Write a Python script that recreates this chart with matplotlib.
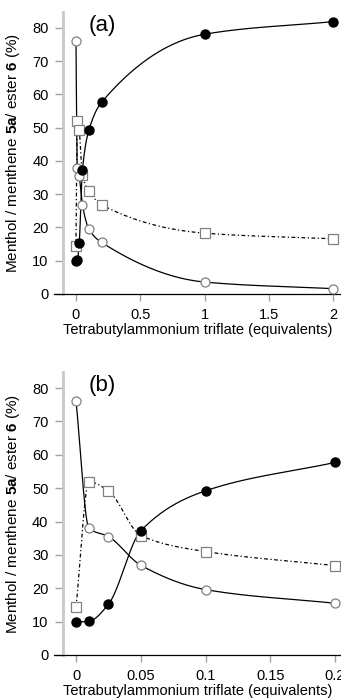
import numpy as np
import matplotlib
matplotlib.use("Agg")
import matplotlib.pyplot as plt

plt.rcParams['font.family'] = ['Liberation Sans', 'DejaVu Sans']
plt.rcParams['mathtext.fontset'] = 'custom'
plt.rcParams['mathtext.rm'] = 'Liberation Sans'
plt.rcParams['mathtext.bf'] = 'Liberation Sans:bold'

# Data
equiv = [0, 0.01, 0.025, 0.05, 0.1, 0.2, 1, 2]
filled_series = [9.8, 10.1, 15.2, 37.2, 49.2, 57.7, 78.1, 81.9]
open_series = [76.1, 38.0, 35.5, 26.9, 19.6, 15.5, 3.6, 1.6]
square_series = [14.3, 51.9, 49.2, 35.8, 31.0, 26.8, 18.3, 16.6]

xticks_a = [0, 0.5, 1, 1.5, 2]
xticklabels_a = ['0', '0.5', '1', '1.5', '2']
xticks_b = [0, 0.05, 0.1, 0.15, 0.2]
xticklabels_b = ['0', '0.05', '0.1', '0.15', '0.2']
yticks = [0, 10, 20, 30, 40, 50, 60, 70, 80]

ylabel = r'Menthol / menthene $\mathbf{5a}$/ ester $\mathbf{6}$ (%)'
xlabel = 'Tetrabutylammonium triflate (equivalents)'


def smooth(x, y, n=40):
    # monotone cubic (Fritsch-Carlson) path through the data points
    x = np.asarray(x, float); y = np.asarray(y, float)
    h = np.diff(x); d = np.diff(y) / h
    m = np.zeros_like(y)
    m[0] = d[0]; m[-1] = d[-1]
    for i in range(1, len(y) - 1):
        if d[i - 1] * d[i] <= 0:
            m[i] = 0
        else:
            w1 = 2 * h[i] + h[i - 1]; w2 = h[i] + 2 * h[i - 1]
            m[i] = (w1 + w2) / (w1 / d[i - 1] + w2 / d[i])
    xs, ys = [x[0]], [y[0]]
    for i in range(len(x) - 1):
        t = np.linspace(0, 1, n)[1:]
        h00 = 2 * t ** 3 - 3 * t ** 2 + 1
        h10 = t ** 3 - 2 * t ** 2 + t
        h01 = -2 * t ** 3 + 3 * t ** 2
        h11 = t ** 3 - t ** 2
        xs.extend(x[i] + t * h[i])
        ys.extend(h00 * y[i] + h10 * h[i] * m[i] + h01 * y[i + 1] + h11 * h[i] * m[i + 1])
    return np.array(xs), np.array(ys)


def draw(ax, xs, fs, os_, ss, xlim, yspine_x, xticks, xticklabels, tag):
    sx, sy = smooth(xs, fs)
    ax.plot(sx, sy, color='black', lw=0.9, zorder=2)
    sx, sy = smooth(xs, os_)
    ax.plot(sx, sy, color='black', lw=0.9, zorder=2)
    sx, sy = smooth(xs, ss)
    ax.plot(sx, sy, color='black', lw=0.9, ls=(0, (3, 2, 1, 2)), zorder=2)
    ax.plot(xs, ss, ls='none', marker='s', ms=6.5, mfc='white', mec='#808080', mew=0.9, zorder=3)
    ax.plot(xs, os_, ls='none', marker='o', ms=6.5, mfc='white', mec='#808080', mew=0.9, zorder=4)
    ax.plot(xs, fs, ls='none', marker='o', ms=6.5, mfc='black', mec='black', zorder=5)

    ax.set_xlim(*xlim)
    ax.set_ylim(0, 84.8)
    for s in ['top', 'right']:
        ax.spines[s].set_visible(False)
    ax.spines['left'].set_position(('data', yspine_x))
    ax.spines['left'].set_color('#c8c8c8')
    ax.spines['left'].set_linewidth(2)
    ax.spines['bottom'].set_linewidth(0.9)
    ax.set_xticks(xticks)
    ax.set_xticklabels(xticklabels)
    ax.set_yticks(yticks)
    ax.tick_params(axis='both', labelsize=10.5, direction='out', color='#a0a0a0', width=1)
    ax.tick_params(axis='y', length=6, pad=4.5)
    ax.tick_params(axis='x', length=5, pad=5)
    ax.set_xlabel(xlabel, fontsize=10.5, labelpad=1)
    ax.set_ylabel(ylabel, fontsize=11, labelpad=2)
    ax.yaxis.set_label_coords(-0.11, 0.5)
    ax.text(0.12, 0.99, tag, transform=ax.transAxes, fontsize=16, ha='left', va='top')
    ax.set_facecolor('none')


fig = plt.figure(figsize=(3.41, 7.0), dpi=100)
ax1 = fig.add_axes([54 / 341, 1 - 294 / 700, 1 - 54 / 341, (294 - 12) / 700])
ax2 = fig.add_axes([54 / 341, 1 - 655 / 700, 1 - 54 / 341, (655 - 372) / 700])

draw(ax1, equiv, filled_series, open_series, square_series,
     (-0.171, 2.062), -0.1, xticks_a, xticklabels_a, '(a)')

# Panel (b): first six points only
n = 6
draw(ax2, equiv[:n], filled_series[:n], open_series[:n], square_series[:n],
     (-0.017, 0.2046), -0.01, xticks_b, xticklabels_b, '(b)')

fig.savefig('out.png', dpi=100)
